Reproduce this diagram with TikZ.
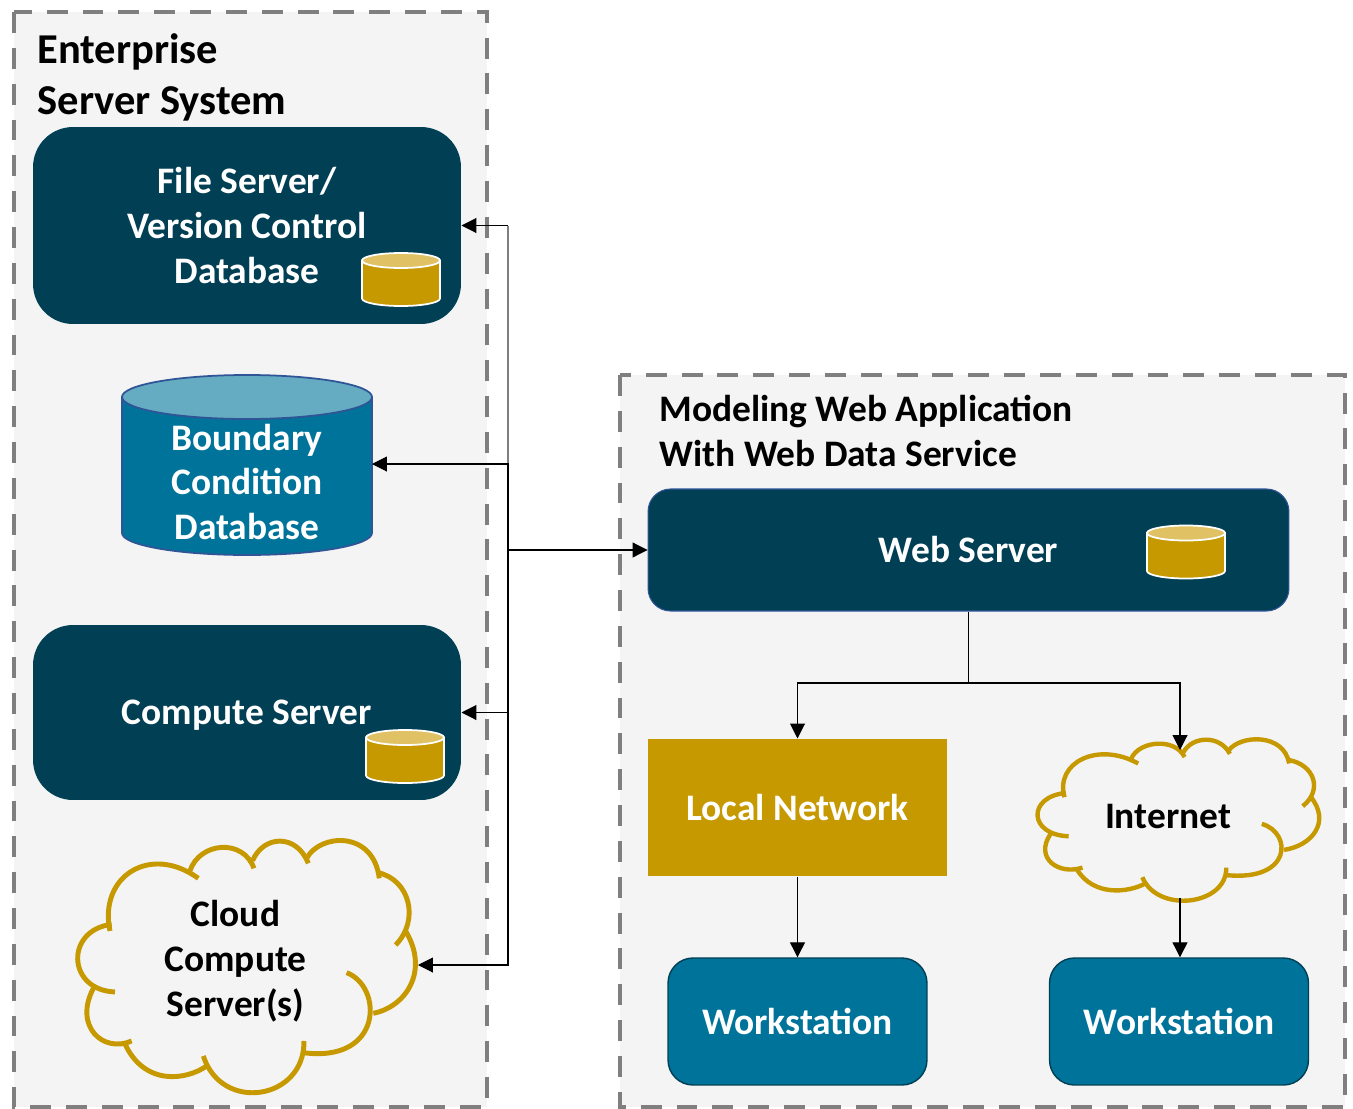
\documentclass[tikz,border=0pt]{standalone}
\usepackage{fontspec}
\setmainfont{Carlito}
\usetikzlibrary{arrows.meta}
\definecolor{navy}{HTML}{003F54}
\definecolor{teal}{HTML}{00739A}
\definecolor{gold}{HTML}{C69900}
\definecolor{lightgold}{HTML}{E0C264}
\definecolor{lightteal}{HTML}{65ACC3}
\definecolor{edgeblue}{HTML}{2F5597}
\definecolor{panelgray}{HTML}{F4F4F4}
\definecolor{dashgray}{HTML}{7F7F7F}
\tikzset{
	panel/.style={fill=panelgray,draw=dashgray,line width=2.8pt,dash pattern=on 11.9pt off 8.5pt},
	heading/.style={anchor=north west,inner sep=0pt,align=left,font=\bfseries\fontsize{21.3}{25.5}\selectfont},
	boxtext/.style={align=center,text=white,font=\bfseries\fontsize{21.3}{25.5}\selectfont},
	server/.style={boxtext,fill=navy,rounded corners=0.8cm,minimum width=8.56cm},
	station/.style={boxtext,fill=teal,draw=navy,line width=0.8pt,rounded corners=0.5cm,minimum width=5.18cm,minimum height=2.54cm},
	golddisk/.style={draw=white,line width=1pt},
	bigdrum/.style={draw=edgeblue,line width=1pt},
	cloudline/.style={draw=gold},
	cloudtext/.style={align=center,font=\bfseries\fontsize{21.3}{25.5}\selectfont}
}
% style, body colour, end colour, centre x, top y, side end y, x radius, y radius
\newcommand{\drumshape}[8]{
	\draw[#1,fill=#2] ({#4-#7},#5) -- ({#4-#7},#6) arc[start angle=180,end angle=0,x radius=#7,y radius=#8] -- ({#4+#7},#5) -- cycle;
	\draw[#1,fill=#3] (#4,#5) ellipse[x radius=#7,y radius=#8];
}
\newcommand{\golddrum}[2]{\drumshape{golddisk}{gold}{lightgold}{#1}{#2}{#2+38}{39}{7.5}}
\newcommand{\cloudlobes}{
	\draw[cloudline] (240,303) .. controls (205,140) and (360,40) .. (505,145);
	\draw[cloudline] (480,122) .. controls (510,35) and (640,25) .. (672,115);
	\draw[cloudline] (668,92) .. controls (700,15) and (800,10) .. (835,100);
	\draw[cloudline] (830,85) .. controls (870,10) and (1030,0) .. (1048,145);
	\draw[cloudline] (1045,128) .. controls (1140,150) and (1170,270) .. (1097,345);
	\draw[cloudline] (1125,300) .. controls (1200,420) and (1130,530) .. (1030,550);
	\draw[cloudline] (950,428) .. controls (1060,470) and (1060,700) .. (820,668);
	\draw[cloudline] (822,633) .. controls (825,810) and (575,850) .. (520,678);
	\draw[cloudline] (530,708) .. controls (470,750) and (345,770) .. (285,642);
	\draw[cloudline] (305,633) .. controls (220,670) and (130,590) .. (190,475);
	\draw[cloudline] (255,486) .. controls (110,480) and (105,300) .. (245,283);
}
\begin{document}
\begin{tikzpicture}[x=0.02cm,y=-0.02cm,>={Triangle[length=8.5pt,width=8.5pt]},line width=0.6pt]
	\useasboundingbox (0,0) rectangle (1353,1109);
	\draw[panel] (14,12) rectangle (487,1107);
	\draw[panel] (620,375) rectangle (1345,1107);
	\node[heading,font=\bfseries\fontsize{24.2}{28.9}\selectfont] (enterprise) at (37,33) {Enterprise\\Server System};
	\node[heading] (modeling) at (659,395) {Modeling Web Application\\With Web Data Service};

	\node[server,minimum height=3.94cm] (file) at (247,225.5) {File Server/\\Version Control\\Database};
	\golddrum{401}{260.5}
	\drumshape{bigdrum}{teal}{lightteal}{247}{397}{533}{125}{22}
	\node[boxtext] (bcdb) at (247,482) {Boundary\\Condition\\Database};
	\coordinate (bcdbtip) at (372,464);
	\node[server,text depth=0pt,minimum height=3.5cm] (compute) at (247,712.5) {Compute Server};
	\golddrum{405}{737.5}
	\begin{scope}[shift={(30,830)},xscale=0.3333,yscale=0.3333,line width=2.8pt]
		\cloudlobes
	\end{scope}
	\node[cloudtext] (cloudsrv) at (235.5,961) {Cloud\\Compute\\Server(s)};
	\coordinate (cloudtip) at (418,965);

	\node[server,draw=edgeblue,rounded corners=0.45cm,minimum width=12.82cm,minimum height=2.44cm] (web) at (968.5,550) {Web Server};
	\golddrum{1186}{533}
	\node[boxtext,fill=gold,minimum width=5.98cm,minimum height=2.74cm] (lan) at (797.5,807.5) {Local Network};
	\begin{scope}[shift={(997.75,732.57)},xscale=0.278,yscale=0.2133,line width=2.5pt]
		\cloudlobes
	\end{scope}
	\node[cloudtext] (internet) at (1168,816) {Internet};
	\coordinate (nettop) at (1180,750);
	\coordinate (netbottom) at (1180,898);
	\node[station] (stationa) at (797.5,1021.5) {Workstation};
	\node[station] (stationb) at (1179,1021.5) {Workstation};

	\coordinate (bus) at (508,550);
	\coordinate (bustop) at (file.east -| bus);
	\draw[dashgray,line width=1pt] (bustop) -- (bus);
	\draw[<-] (file.east) -- (bustop);
	\draw[<-] (bcdbtip) -| (bus);
	\draw[<-] (compute.east) -| (bus);
	\draw[<-] (cloudtip) -| (bus);
	\draw[->] (bus) -- (web.west);
	\coordinate (fork) at (968.5,683);
	\draw (web.south) -- (fork);
	\draw[->] (fork) -| (lan.north);
	\draw[->] (fork) -| (nettop);
	\draw[->] (lan.south) -- (stationa.north);
	\draw[->] (netbottom) -- (netbottom|-stationb.north);
\end{tikzpicture}
\end{document}
